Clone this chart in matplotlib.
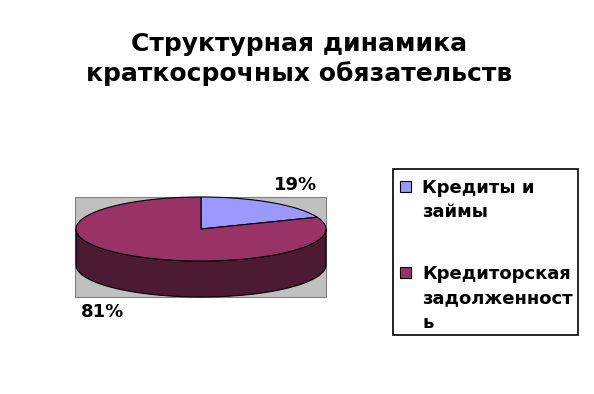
import numpy as np
import matplotlib
matplotlib.use("Agg")
import matplotlib.pyplot as plt
from matplotlib.patches import Polygon, Rectangle

# data
title = "Структурная динамика\nкраткосрочных обязательств"
categories = ["Кредиты и\nзаймы", "Кредиторская\nзадолженност\nь"]
shares = [19, 81]
labels = ["19%", "81%"]
colors = ["#9999FF", "#993366"]
side_colors = ["#4C4C80", "#4C1A33"]

plt.rcParams['font.family'] = ['DejaVu Sans']

fig = plt.figure(figsize=(5.94, 3.94), dpi=100)
ax = fig.add_axes([0, 0, 1, 1])
ax.set_xlim(0, 594)
ax.set_ylim(394, 0)
ax.axis('off')

ax.text(299, 59, title, ha='center', va='center',
        fontsize=18, fontweight='bold', linespacing=1.22)

# plot area background
ax.add_patch(Rectangle((75, 197), 251, 100, facecolor='#C0C0C0',
                       edgecolor='#808080', lw=0.8))

cx, cy, rx, ry, depth = 201, 229, 125, 32, 36


def ell(t, yoff=0):
    return np.column_stack([cx + rx * np.cos(t), cy + yoff - ry * np.sin(t)])


# slice angles: start at 12 o'clock, go clockwise
fr = np.array(shares) / sum(shares)
starts = np.pi / 2 - 2 * np.pi * np.concatenate([[0], np.cumsum(fr)[:-1]])
ends = starts - 2 * np.pi * fr

# side wall (front half only)
for i in range(len(shares)):
    lo = max(ends[i], -np.pi)
    hi = min(starts[i], 0)
    if hi > lo:
        t = np.linspace(lo, hi, 120)
        pts = np.vstack([ell(t), ell(t[::-1], depth)])
        ax.add_patch(Polygon(pts, closed=True, facecolor=side_colors[i],
                             edgecolor='black', lw=0.8))

# top faces
for i in range(len(shares)):
    t = np.linspace(starts[i], ends[i], 200)
    pts = np.vstack([[cx, cy], ell(t)])
    ax.add_patch(Polygon(pts, closed=True, facecolor=colors[i],
                         edgecolor='black', lw=0.8))

# value labels
ax.text(296, 185, labels[0], ha='center', va='center', fontsize=13, fontweight='bold')
ax.text(103, 312, labels[1], ha='center', va='center', fontsize=13, fontweight='bold')

# legend
ax.add_patch(Rectangle((393, 169), 185, 166, facecolor='white',
                       edgecolor='black', lw=1.2))
entry_y = [186, 272]
for i, cat in enumerate(categories):
    ax.add_patch(Rectangle((400, entry_y[i] - 5.5), 11, 11,
                           facecolor=colors[i], edgecolor='black', lw=0.8))
    ax.text(422, entry_y[i] - 7, cat, ha='left', va='top', fontsize=13,
            fontweight='bold', linespacing=1.45)

fig.savefig("out.png", dpi=100)
